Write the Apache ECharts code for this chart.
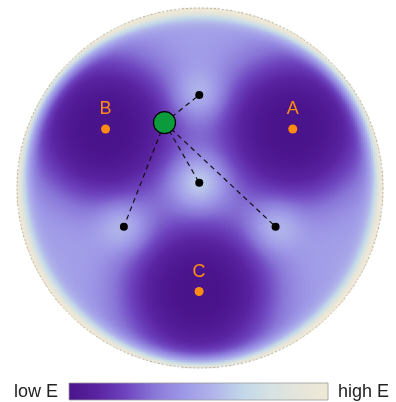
<!DOCTYPE html>
<html>
<head>
<meta charset="utf-8">
<script src="https://cdn.jsdelivr.net/npm/echarts@6/dist/echarts.min.js"></script>
<style>
  html, body { margin: 0; padding: 0; background: #fff; }
  #main { width: 396px; height: 402px; }
</style>
</head>
<body>
<div id="main"></div>
<script>
// minima of the landscape (unit disk coords)
const minimaNames = ['A', 'B', 'C'];
const minimaX = [0.507, -0.516, -0.005];
const minimaY = [0.328, 0.328, -0.575];

// saddle / barrier points (black dots)
const saddleX = [-0.004, -0.004, -0.416, 0.413];
const saddleY = [0.517, 0.029, -0.215, -0.215];
const saddleHeight = [0.2, 0.27, 0.2, 0.2];

// current state (green marker)
const probe = [-0.194, 0.363];

// colour scale low E -> high E
const palette = ['#4a148c', '#5a23a0', '#6f45bf', '#8a78d8', '#9f99e7', '#b0b4ea', '#c2d6e9', '#d6e2e3', '#e6e5da', '#efe8d6'];

const NX = 183;
const NY = 180;
const wellScale = 0.44;
const bumpSigma = 0.095;

function energy(x, y) {
  let w = 0;
  for (let k = 0; k < minimaX.length; k++) {
    const d = Math.hypot(x - minimaX[k], y - minimaY[k]) / wellScale;
    w += Math.exp(-(d ** 3));
  }
  let e = 0.48 * Math.max(0, 1 - w);
  for (let k = 0; k < saddleX.length; k++) {
    const d2 = (x - saddleX[k]) ** 2 + (y - saddleY[k]) ** 2;
    e += saddleHeight[k] * Math.exp(-d2 / (2 * bumpSigma * bumpSigma));
  }
  const r = Math.hypot(x, y);
  if (r > 0.8) e += 0.7 * ((r - 0.8) / 0.2) ** 4;
  return Math.min(1, Math.max(0, e));
}

const xs = [];
const ys = [];
for (let i = 0; i < NX; i++) xs.push(i);
for (let j = 0; j < NY; j++) ys.push(j);
const cells = [];
for (let i = 0; i < NX; i++) {
  for (let j = 0; j < NY; j++) {
    const x = -1 + (i + 0.5) * 2 / NX;
    const y = -1 + (j + 0.5) * 2 / NY;
    if (Math.hypot(x, y) > 1) continue;
    cells.push([i, j, energy(x, y)]);
  }
}

const chart = echarts.init(document.getElementById('main'));

const font = 'Liberation Sans, Arial, sans-serif';

chart.setOption({
  animation: false,
  textStyle: { fontFamily: font },
  grid: { left: 17, top: 8, width: 366, height: 360 },
  xAxis: [
    { type: 'category', data: xs, show: false },
    { type: 'value', min: -1, max: 1, show: false, position: 'top' }
  ],
  yAxis: [
    { type: 'category', data: ys, show: false },
    { type: 'value', min: -1, max: 1, show: false, position: 'right' }
  ],
  visualMap: {
    type: 'continuous',
    show: false,
    seriesIndex: 0,
    dimension: 2,
    min: 0,
    max: 1,
    inRange: { color: palette }
  },
  graphic: [
    {
      type: 'rect',
      x: 69,
      y: 383,
      shape: { width: 259, height: 17 },
      style: {
        fill: new echarts.graphic.LinearGradient(0, 0, 1, 0,
          palette.map((col, k) => ({ offset: k / (palette.length - 1), color: col }))),
        stroke: '#999',
        lineWidth: 0.8
      },
      silent: true
    },
    {
      type: 'text',
      x: 58,
      y: 392,
      style: { text: 'low E', font: '18px ' + font, fill: '#222', align: 'right', verticalAlign: 'middle' }
    },
    {
      type: 'text',
      x: 338,
      y: 392,
      style: { text: 'high E', font: '18px ' + font, fill: '#222', align: 'left', verticalAlign: 'middle' }
    }
  ],
  series: [
    {
      type: 'heatmap',
      data: cells,
      progressive: 0,
      itemStyle: { borderWidth: 0 },
      emphasis: { disabled: true },
      z: 1
    },
    {
      type: 'lines',
      coordinateSystem: 'cartesian2d',
      xAxisIndex: 1,
      yAxisIndex: 1,
      silent: true,
      lineStyle: { color: '#111', width: 1.2, type: [5, 4], opacity: 1 },
      data: saddleX.map((sx, k) => ({ coords: [probe, [sx, saddleY[k]]] })),
      z: 2
    },
    {
      type: 'scatter',
      xAxisIndex: 1,
      yAxisIndex: 1,
      symbolSize: 8,
      itemStyle: { color: '#000', opacity: 1 },
      data: saddleX.map((sx, k) => [sx, saddleY[k]]),
      z: 3
    },
    {
      type: 'scatter',
      xAxisIndex: 1,
      yAxisIndex: 1,
      symbolSize: 9,
      itemStyle: { color: '#ff8c10', opacity: 1 },
      label: {
        show: true,
        position: 'top',
        distance: 6,
        formatter: '{b}',
        fontSize: 18,
        color: '#ff8c10'
      },
      data: minimaNames.map((n, k) => ({ name: n, value: [minimaX[k], minimaY[k]] })),
      z: 3
    },
    {
      type: 'scatter',
      xAxisIndex: 1,
      yAxisIndex: 1,
      symbolSize: 22,
      itemStyle: { color: '#0b9a3c', borderColor: '#000', borderWidth: 1.2, opacity: 1 },
      data: [probe],
      z: 4
    }
  ]
});

// faint outline of the disk
const c = chart.convertToPixel({ xAxisIndex: 1, yAxisIndex: 1 }, [0, 0]);
const e = chart.convertToPixel({ xAxisIndex: 1, yAxisIndex: 1 }, [1, 1]);
const rx = e[0] - c[0];
const ry = c[1] - e[1];
chart.setOption({
  graphic: [{
    id: 'rim',
    type: 'circle',
    x: c[0],
    y: c[1],
    scaleY: ry / rx,
    shape: { cx: 0, cy: 0, r: rx },
    style: { fill: null, stroke: '#777', lineWidth: 0.8, lineDash: [2, 2], opacity: 0.6 },
    silent: true,
    z: 5
  }]
});
</script>
</body>
</html>
